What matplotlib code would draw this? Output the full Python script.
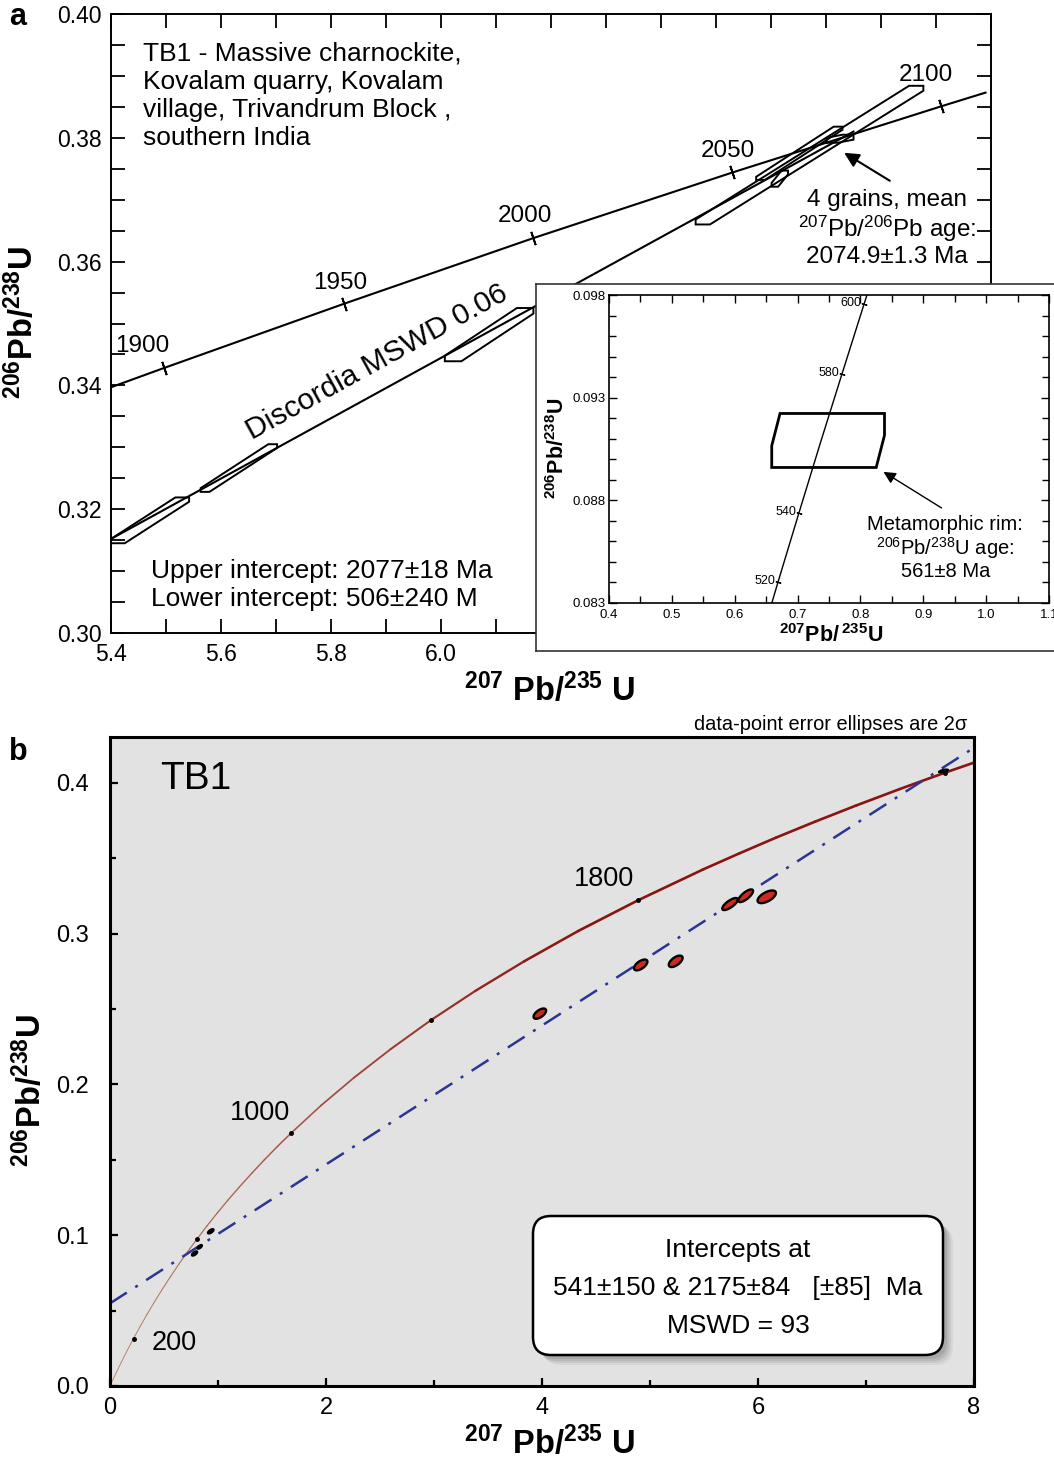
import numpy as np
import matplotlib
matplotlib.use("Agg")
import matplotlib.pyplot as plt
from matplotlib.patches import Polygon, FancyBboxPatch
from matplotlib.collections import LineCollection

plt.rcParams['font.family'] = ['Liberation Sans', 'DejaVu Sans']
plt.rcParams['mathtext.fontset'] = 'custom'
plt.rcParams['mathtext.rm'] = 'Liberation Sans'
plt.rcParams['mathtext.it'] = 'Liberation Sans:italic'
plt.rcParams['mathtext.bf'] = 'Liberation Sans:bold'

# ---------------- panel a data ----------------
a_ages = [1900, 1950, 2000, 2050, 2100]
a_age_x = [5.496, 5.824, 6.168, 6.530, 6.910]
a_age_y = [0.3428, 0.3532, 0.3638, 0.3744, 0.3851]
a_conc_x = [5.400, 5.496, 5.824, 6.168, 6.530, 6.910, 6.990]
a_conc_y = [0.3397, 0.3428, 0.3532, 0.3638, 0.3744, 0.3851, 0.3873]
a_disc_x = [5.40, 6.75]
a_disc_y = [0.3152, 0.3810]

# error boxes: x range, y range, end-cap width (x) and end-cap height (y)
box_xlo = [5.400, 5.563, 6.007, 6.463, 6.573, 6.601, 6.701]
box_xhi = [5.542, 5.702, 6.168, 6.877, 6.730, 6.631, 6.750]
box_ylo = [0.3145, 0.3228, 0.3439, 0.3660, 0.3732, 0.3721, 0.3792]
box_yhi = [0.3219, 0.3305, 0.3525, 0.3884, 0.3818, 0.3747, 0.3805]
box_w = [0.025, 0.016, 0.030, 0.026, 0.016, 0.012, 0.020]
box_h = [0.0007, 0.0006, 0.0009, 0.0008, 0.0005, 0.0006, 0.0008]

# inset
ins_ages = [520, 540, 580, 600]
ins_age_x = [0.6688, 0.7021, 0.7705, 0.8056]
ins_age_y = [0.08401, 0.08738, 0.09414, 0.09754]
ins_conc_x = [0.6590, 0.6688, 0.7021, 0.7359, 0.7705, 0.8056, 0.8104]
ins_conc_y = [0.0830, 0.08401, 0.08738, 0.09076, 0.09414, 0.09754, 0.0980]
rim_xlo, rim_xhi, rim_ylo, rim_yhi = 0.6589, 0.8383, 0.0896, 0.09223
rim_w, rim_h = 0.1662, 0.00106

# ---------------- panel b data ----------------
b_conc_x = [0, 0.0249, 0.0505, 0.1035, 0.1592, 0.2177, 0.2792, 0.3437, 0.4116,
            0.4828, 0.5577, 0.6363, 0.7189, 0.8056, 0.8968, 0.9925, 1.0931,
            1.1988, 1.3097, 1.4263, 1.5488, 1.6774, 1.9545, 2.2604, 2.5977,
            2.9700, 3.3810, 3.8346, 4.3347, 4.8869, 5.4962, 5.8241, 6.1684,
            6.5304, 6.9104, 7.3097, 7.7291, 8.1697]
b_conc_y = [0, 0.0039, 0.0078, 0.0156, 0.0235, 0.0315, 0.0395, 0.0476, 0.0558,
            0.0640, 0.0723, 0.0807, 0.0891, 0.0975, 0.1061, 0.1147, 0.1234,
            0.1321, 0.1409, 0.1498, 0.1588, 0.1678, 0.1861, 0.2046, 0.2234,
            0.2426, 0.2620, 0.2817, 0.3018, 0.3221, 0.3428, 0.3532, 0.3638,
            0.3744, 0.3851, 0.3959, 0.4068, 0.4177]
b_dot_x = [0.2177, 0.8056, 1.6774, 2.9700, 4.8869, 7.7291]
b_dot_y = [0.0315, 0.0975, 0.1678, 0.2426, 0.3221, 0.4068]
b_labels = ['200', '1000', '1800']
b_label_x = [0.59, 1.39, 4.57]
b_label_y = [0.0285, 0.181, 0.336]
b_disc_x = [0, 8]
b_disc_y = [0.0548, 0.4234]

ell_x = [3.980, 4.914, 5.238, 5.741, 5.886, 6.081]
ell_y = [0.2470, 0.2793, 0.2817, 0.3197, 0.3252, 0.3245]
ell_sx = [0.058, 0.062, 0.064, 0.072, 0.068, 0.085]
ell_sy = [0.0034, 0.0036, 0.0038, 0.0040, 0.0042, 0.0042]
ell_rho = [0.6, 0.6, 0.6, 0.75, 0.75, 0.6]

blk_x = [0.783, 0.831, 0.933, 7.717]
blk_y = [0.0879, 0.0923, 0.1026, 0.4080]
blk_sx = [0.028, 0.024, 0.030, 0.045]
blk_sy = [0.0017, 0.0015, 0.0017, 0.0012]

W, H = 1054, 1461
fig = plt.figure(figsize=(W / 100, H / 100), dpi=100)


def fr(x0, y0, x1, y1):
    return [x0 / W, 1 - y1 / H, (x1 - x0) / W, (y1 - y0) / H]


def err_box(ax, xlo, xhi, ylo, yhi, w, h, lw=1.4):
    verts = [(xlo, ylo), (xlo + w, ylo), (xhi, yhi - h), (xhi, yhi),
             (xhi - w, yhi), (xlo, ylo + h)]
    ax.add_patch(Polygon(verts, closed=True, fill=False, ec='black', lw=lw,
                         joinstyle='miter'))


# ======================= panel a =======================
axa = fig.add_axes(fr(111, 14, 991, 633))
axa.set_xlim(5.4, 7.0)
axa.set_ylim(0.30, 0.40)
xt = np.arange(5.4, 7.01, 0.2)
axa.set_xticks(xt)
axa.set_xticklabels(['%.1f' % v if v < 6.05 else '' for v in xt])
axa.set_xticks(np.arange(5.5, 7.0, 0.2), minor=True)
yt = np.arange(0.30, 0.401, 0.02)
axa.set_yticks(yt)
axa.set_yticklabels(['%.2f' % v for v in yt])
axa.set_yticks(np.arange(0.30, 0.40, 0.005), minor=True)
axa.tick_params(which='both', direction='in', top=True, right=True,
                length=10, width=1.3, labelsize=16.5)
axa.tick_params(axis='x', pad=7)
axa.tick_params(axis='y', pad=7)
for s in axa.spines.values():
    s.set_linewidth(1.4)

axa.plot(a_conc_x, a_conc_y, color='black', lw=1.5)
axa.plot(a_disc_x, a_disc_y, color='black', lw=1.5)
axa.plot(a_age_x, a_age_y, ls='none', marker=(2, 2, 18.7), ms=10,
         mec='black', mew=1.3)
lab_off = [(-22, 22), (-4, 21), (-8, 22), (-5, 21), (-16, 31)]
for age, x, y, off in zip(a_ages, a_age_x, a_age_y, lab_off):
    axa.annotate(str(age), (x, y), xytext=(off[0] * 0.72, off[1] * 0.72),
                 textcoords='offset points', ha='center', va='center', fontsize=17.5)

for i in range(len(box_xlo)):
    err_box(axa, box_xlo[i], box_xhi[i], box_ylo[i], box_yhi[i], box_w[i], box_h[i])

axa.text(0.036, 0.955, 'TB1 - Massive charnockite,\nKovalam quarry, Kovalam\n'
         'village, Trivandrum Block ,\nsouthern India', transform=axa.transAxes,
         ha='left', va='top', fontsize=19, linespacing=1.22)
axa.text(0.0455, 0.078, 'Upper intercept: 2077\u00b118 Ma\nLower intercept: 506\u00b1240 M',
         transform=axa.transAxes, ha='left', va='center', fontsize=19,
         linespacing=1.2)
axa.text(0.302, 0.438, 'Discordia MSWD 0.06', transform=axa.transAxes,
         ha='center', va='center', rotation=28.8, rotation_mode='anchor',
         fontsize=21.5)
axa.text(0.882, 0.653, '4 grains, mean\n$^{207}$Pb/$^{206}$Pb age:\n2074.9\u00b11.3 Ma',
         transform=axa.transAxes, ha='center', va='center', fontsize=17.5,
         linespacing=1.12, multialignment='center')
axa.annotate('', xy=(6.733, 0.37758), xytext=(6.816, 0.37306),
             arrowprops=dict(arrowstyle='-|>', color='black', lw=1.5,
                             mutation_scale=22, shrinkA=0, shrinkB=0))

# inset frame and inset
frame = fig.add_axes(fr(536, 284, 1070, 651))
frame.set_xticks([])
frame.set_yticks([])
frame.set_facecolor('white')
for s in frame.spines.values():
    s.set_linewidth(1.2)
    s.set_color('#333333')

axi = fig.add_axes(fr(609, 295, 1049, 603))
axi.set_xlim(0.4, 1.1)
axi.set_ylim(0.083, 0.098)
xi = np.arange(0.4, 1.101, 0.1)
axi.set_xticks(xi)
axi.set_xticklabels(['%.1f' % v for v in xi])
axi.set_xticks(np.arange(0.45, 1.1, 0.1), minor=True)
axi.set_yticks([0.083, 0.088, 0.093, 0.098])
axi.set_yticklabels(['0.083', '0.088', '0.093', '0.098'])
axi.set_yticks(np.arange(0.083, 0.098, 0.001), minor=True)
axi.tick_params(which='both', direction='in', top=True, right=True,
                width=1.0)
axi.tick_params(axis='x', pad=4.5, labelsize=9.5)
axi.tick_params(axis='y', pad=2.5, labelsize=9.5)
axi.tick_params(which='major', length=6)
axi.tick_params(which='minor', length=5)
for s in axi.spines.values():
    s.set_linewidth(1.2)
axi.plot(ins_conc_x, ins_conc_y, color='black', lw=1.0)
axi.plot(ins_age_x, ins_age_y, ls='none', marker=(2, 2, 72.9), ms=4,
         mec='black', mew=0.8)
for age, x, y in zip(ins_ages, ins_age_x, ins_age_y):
    axi.annotate(str(age), (x, y), xytext=(-2, 1), textcoords='offset points',
                 ha='right', va='center', fontsize=9)
err_box(axi, rim_xlo, rim_xhi, rim_ylo, rim_yhi, rim_w, rim_h, lw=2.0)
axi.text(0.7645, 0.1787, 'Metamorphic rim:\n$^{206}$Pb/$^{238}$U age:\n561\u00b18 Ma',
         transform=axi.transAxes, ha='center', va='center', fontsize=14.5,
         linespacing=1.05, multialignment='center')
axi.annotate('', xy=(0.8367, 0.089386), xytext=(0.929, 0.08763),
             arrowprops=dict(arrowstyle='-|>', color='black', lw=1.0,
                             mutation_scale=18, shrinkA=0, shrinkB=0))
fig.text(558 / W, 1 - 448 / H, r'$\mathbf{^{206}Pb/^{238}U}$', rotation=90,
         ha='center', va='center', fontsize=15.5)
fig.text(831 / W, 1 - 636 / H, r'$\mathbf{^{207}Pb/\,^{235}U}$',
         ha='center', va='center', fontsize=15.5)

fig.text(18 / W, 1 - 17 / H, 'a', fontsize=22, fontweight='bold', ha='center', va='center')
fig.text(22 / W, 1 - 322 / H, r'$\mathbf{^{206}Pb/^{238}U}$', rotation=90,
         ha='center', va='center', fontsize=23.5)
fig.text(550 / W, 1 - 690 / H, r'$\mathbf{^{207}\ Pb/^{235}\ U}$',
         ha='center', va='center', fontsize=23.5)

# ======================= panel b =======================
axb = fig.add_axes(fr(110, 737, 974, 1386))
axb.set_facecolor('#e2e2e2')
axb.set_xlim(0, 8)
axb.set_ylim(0, 0.4305)
axb.set_xticks([0, 2, 4, 6, 8])
axb.set_xticks([1, 3, 5, 7], minor=True)
axb.set_yticks([0, 0.1, 0.2, 0.3, 0.4])
axb.set_yticklabels(['0.0', '0.1', '0.2', '0.3', '0.4'])
axb.set_yticks([0.05, 0.15, 0.25, 0.35], minor=True)
axb.tick_params(which='both', direction='in', width=1.6, labelsize=17)
axb.tick_params(which='major', length=5.5)
axb.tick_params(which='minor', length=4.5)
axb.tick_params(axis='x', pad=8)
axb.tick_params(axis='y', pad=15)
for s in axb.spines.values():
    s.set_linewidth(2.2)

pts = np.column_stack([b_conc_x, b_conc_y])
segs = np.stack([pts[:-1], pts[1:]], axis=1)
frac = np.clip(pts[:-1, 0] / 4.0, 0, 1)
lws = 0.6 + 1.3 * frac
cols = [(0.72 - 0.18 * f, 0.50 - 0.42 * f, 0.42 - 0.36 * f) for f in frac]
axb.add_collection(LineCollection(segs, linewidths=lws, colors=cols, zorder=2,
                                  capstyle='round', joinstyle='round'))
axb.plot(b_disc_x, b_disc_y, color='#2b3593', lw=1.8, dashes=(8, 4, 1.2, 4), zorder=2)
axb.plot(b_dot_x, b_dot_y, 'o', color='black', ms=2.5, zorder=3)
for lab, x, y in zip(b_labels, b_label_x, b_label_y):
    axb.text(x, y, lab, ha='center', va='center', fontsize=19.5)

t = np.linspace(0, 2 * np.pi, 120)
for cx, cy, sx, sy, r in zip(ell_x, ell_y, ell_sx, ell_sy, ell_rho):
    ex = cx + sx * np.cos(t)
    ey = cy + sy * (r * np.cos(t) + np.sqrt(1 - r * r) * np.sin(t))
    axb.fill(ex, ey, fc='#cc2a1e', ec='black', lw=1.7, zorder=4)
for cx, cy, sx, sy in zip(blk_x, blk_y, blk_sx, blk_sy):
    ex = cx + sx * np.cos(t)
    ey = cy + sy * (0.6 * np.cos(t) + 0.8 * np.sin(t))
    axb.fill(ex, ey, fc='black', ec='black', lw=1.0, zorder=4)

axb.text(0.058, 0.935, 'TB1', transform=axb.transAxes, ha='left', va='center',
         fontsize=28)

# rounded result box with soft shadow (inches)
bx0, by0, bw, bh = 5.33, 1.06, 4.10, 1.39
for k, a in enumerate([0.08, 0.10, 0.13, 0.16]):
    off = 0.10 - 0.02 * k
    sh = FancyBboxPatch((bx0 + off, by0 - off), bw, bh,
                        boxstyle='round,pad=0,rounding_size=0.18',
                        transform=fig.dpi_scale_trans, fc='#555555', ec='none',
                        alpha=a, clip_on=False, zorder=5)
    axb.add_patch(sh)
box = FancyBboxPatch((bx0, by0), bw, bh, boxstyle='round,pad=0,rounding_size=0.18',
                     transform=fig.dpi_scale_trans, fc='white', ec='black', lw=1.8,
                     clip_on=False, zorder=6)
axb.add_patch(box)
for txt, yp in zip(['Intercepts at', '541\u00b1150 & 2175\u00b184   [\u00b185]  Ma',
                    'MSWD = 93'], [1250, 1288, 1326]):
    fig.text(738 / W, 1 - yp / H, txt, ha='center', va='center', fontsize=19, zorder=7)

fig.text(967 / W, 1 - 725 / H, 'data-point error ellipses are 2\u03c3', ha='right',
         va='center', fontsize=14.4)
fig.text(18 / W, 1 - 752 / H, 'b', fontsize=22, fontweight='bold', ha='center', va='center')
fig.text(30 / W, 1 - 1090 / H, r'$\mathbf{^{206}Pb/^{238}U}$', rotation=90,
         ha='center', va='center', fontsize=23.5)
fig.text(550 / W, 1 - 1443 / H, r'$\mathbf{^{207}\ Pb/^{235}\ U}$',
         ha='center', va='center', fontsize=23.5)

fig.savefig('out.png', dpi=100)
